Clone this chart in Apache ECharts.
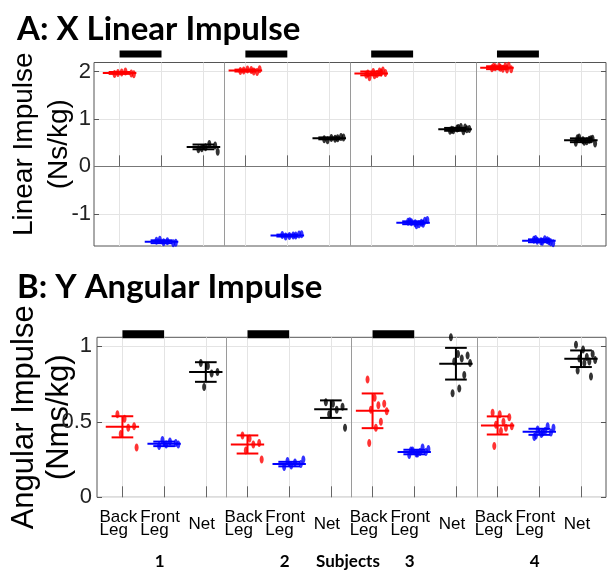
<!DOCTYPE html>
<html><head><meta charset="utf-8">
<script src="https://cdn.jsdelivr.net/npm/echarts@6/dist/echarts.min.js"></script>
<style>html,body{margin:0;padding:0;background:#fff}#c{width:608px;height:570px}</style>
</head><body><div id="c"></div>
<script>
// ---------- data ----------
const GROUPS = ['1', '2', '3', '4'];
const LEG_LABELS = ['Back\nLeg', 'Front\nLeg', 'Net'];
const X_TITLE = 'Subjects';
const TITLE_A = 'A: X Linear Impulse';
const TITLE_B = 'B: Y Angular Impulse';
const YNAME_A = 'Linear Impulse\n(Ns/kg)';
const YNAME_B = 'Angular Impulse\n(Nms/kg)';
const TICKS_A = [-1, 0, 1, 2];
const TICKS_B = [0, 0.5, 1];
const BARS_A = [0, 1, 2, 3];   // groups with black bar (panel A)
const BARS_B = [0, 1, 2];      // groups with black bar (panel B)
const JITTER = [-0.12, 0.05, 0.28, 0.14, -0.04, 0.34, 0.20, 0.08, -0.08, 0.24];

// Panel A: X linear impulse
const linBackPts = [
  [1.95, 1.98, 1.96, 2.00, 1.97, 1.94],
  [2.01, 2.04, 1.99, 2.03, 2.02, 2.05, 2.00],
  [1.93, 1.99, 2.02, 1.95, 1.88, 1.97, 2.00, 1.92, 1.96, 1.98],
  [2.07, 2.10, 2.12, 2.06, 2.09, 2.05, 2.11, 2.08, 2.10, 2.04]
];
const linBackMean = [1.97, 2.02, 1.96, 2.08];
const linBackSD = [0.02, 0.02, 0.04, 0.03];
const linFrontPts = [
  [-1.57, -1.60, -1.62, -1.58, -1.55, -1.61],
  [-1.45, -1.47, -1.44, -1.46, -1.48, -1.43, -1.46],
  [-1.17, -1.20, -1.15, -1.22, -1.18, -1.13, -1.19, -1.24, -1.16, -1.21],
  [-1.55, -1.58, -1.60, -1.54, -1.57, -1.62, -1.56, -1.59, -1.53, -1.58]
];
const linFrontMean = [-1.59, -1.46, -1.19, -1.57];
const linFrontSD = [0.03, 0.02, 0.03, 0.03];
const linNetPts = [
  [0.36, 0.40, 0.44, 0.47, 0.38, 0.31],
  [0.57, 0.60, 0.62, 0.58, 0.55, 0.61, 0.59],
  [0.75, 0.80, 0.78, 0.83, 0.76, 0.79, 0.74, 0.81, 0.77, 0.82],
  [0.50, 0.55, 0.58, 0.53, 0.61, 0.48, 0.56, 0.52, 0.59, 0.57]
];
const linNetMean = [0.41, 0.59, 0.78, 0.55];
const linNetSD = [0.05, 0.02, 0.03, 0.04];

// Panel B: Y angular impulse
const angBackPts = [
  [0.55, 0.52, 0.47, 0.46, 0.42, 0.33],
  [0.41, 0.39, 0.36, 0.35, 0.31, 0.25],
  [0.78, 0.66, 0.62, 0.61, 0.58, 0.57, 0.50, 0.46, 0.36],
  [0.56, 0.55, 0.53, 0.50, 0.48, 0.47, 0.46, 0.44, 0.34]
];
const angBackMean = [0.467, 0.35, 0.573, 0.476];
const angBackSD = [0.07, 0.06, 0.115, 0.06];
const angFrontPts = [
  [0.34, 0.35, 0.36, 0.37, 0.38, 0.35],
  [0.20, 0.21, 0.22, 0.23, 0.24, 0.25],
  [0.28, 0.29, 0.30, 0.30, 0.31, 0.32, 0.33, 0.29, 0.31],
  [0.40, 0.42, 0.43, 0.44, 0.45, 0.46, 0.47, 0.43, 0.41]
];
const angFrontMean = [0.354, 0.22, 0.30, 0.434];
const angFrontSD = [0.015, 0.015, 0.015, 0.02];
const angNetPts = [
  [0.89, 0.87, 0.83, 0.82, 0.73],
  [0.63, 0.62, 0.60, 0.58, 0.55, 0.46],
  [1.06, 0.95, 0.94, 0.92, 0.90, 0.89, 0.81, 0.72, 0.69],
  [1.01, 0.98, 0.95, 0.93, 0.92, 0.91, 0.90, 0.89, 0.84, 0.80]
];
const angNetMean = [0.83, 0.584, 0.885, 0.918];
const angNetSD = [0.065, 0.058, 0.105, 0.055];

// ---------- styling ----------
const COLORS = ['#ff0000', '#0000ff', '#000000'];
const NARROW = "'Liberation Sans Narrow', 'Arial Narrow', 'Liberation Sans', Arial, sans-serif";
const REG = "'Liberation Sans', Arial, sans-serif";
const BOLD = "Lato, 'Open Sans', sans-serif";
const X_MIN = 0.39, X_MAX = 12.6;
const MEAN_HALF = 0.40, STD_HALF = 0.26;
const PT_SIZE = [4, 8];

const catX = (g, l) => g * 3 + l + 1;
const CATS = [];
GROUPS.forEach((_, g) => LEG_LABELS.forEach((__, l) => CATS.push(catX(g, l))));
const SEPARATORS = GROUPS.slice(1).map((_, g) => catX(g, 2) + 0.5);

function pointsData(ptsByGroup, leg) {
  const out = [];
  ptsByGroup.forEach((pts, g) => pts.forEach((v, i) => out.push([catX(g, leg) + JITTER[i % JITTER.length], v])));
  return out;
}
function errData(sets) {
  const out = [];
  sets.forEach(([means, sds], leg) => means.forEach((m, g) => out.push([catX(g, leg), m, sds[g], leg])));
  return out;
}

function errRender(params, api) {
  const x = api.value(0), m = api.value(1), s = api.value(2), c = api.value(3);
  const col = COLORS[c];
  const a = api.coord([x - MEAN_HALF, m]), b = api.coord([x + MEAN_HALF, m]);
  const t = api.coord([x, m + s]), btm = api.coord([x, m - s]);
  const hw = api.size([STD_HALF, 0])[0];
  const st = { stroke: col, lineWidth: 2 };
  return { type: 'group', children: [
    { type: 'line', shape: { x1: a[0], y1: a[1], x2: b[0], y2: b[1] }, style: st },
    { type: 'line', shape: { x1: t[0] - hw, y1: t[1], x2: t[0] + hw, y2: t[1] }, style: st },
    { type: 'line', shape: { x1: btm[0] - hw, y1: btm[1], x2: btm[0] + hw, y2: btm[1] }, style: st },
    { type: 'line', shape: { x1: t[0], y1: t[1], x2: btm[0], y2: btm[1] }, style: st }
  ]};
}
function barRender(gap, h) {
  return function (params, api) {
    const g = api.value(0);
    const p1 = api.coord([catX(g, 0), 0]), p2 = api.coord([catX(g, 1), 0]);
    const top = params.coordSys.y;
    return { type: 'rect', shape: { x: p1[0], y: top - gap - h, width: p2[0] - p1[0], height: h },
      style: { fill: '#000' } };
  };
}

const ELLIPSE = 'path://M5,0 C7.8,0 10,4.5 10,10 C10,15.5 7.8,20 5,20 C2.2,20 0,15.5 0,10 C0,4.5 2.2,0 5,0 Z';

function makeXAxis(gi, showLabels) {
  return {
    type: 'value', gridIndex: gi, min: X_MIN, max: X_MAX, position: 'bottom',
    axisLine: { show: false },
    axisTick: { show: true, inside: true, length: 11, customValues: CATS, lineStyle: { color: '#666' } },
    splitLine: { show: true, lineStyle: { color: '#e4e4e4', width: 1 } },
    axisLabel: showLabels ? {
      show: true, customValues: CATS, margin: 14, padding: [0, 8, 0, 0],
      formatter: v => {
        const leg = (Math.round(v) - 1) % 3;
        if (leg === 2) return '{n|' + LEG_LABELS[2] + '}';
        return LEG_LABELS[leg].split('\n').map(s => '{a|' + s + '}').join('\n');
      },
      rich: {
        a: { align: 'left', fontFamily: NARROW, fontSize: 17, lineHeight: 13, color: '#000' },
        n: { fontFamily: NARROW, fontSize: 17, lineHeight: 26, color: '#000' }
      }
    } : { show: false }
  };
}
function makeYAxis(gi, min, max, ticks, name, nameSize, namePad, pos, margin, labelSize, nameGap) {
  const left = pos === 'left';
  return {
    type: 'value', gridIndex: gi, min: min, max: max, position: pos,
    axisLine: { show: false },
    axisTick: { show: true, inside: true, length: 5, customValues: ticks, lineStyle: { color: '#555' } },
    splitLine: { show: left, lineStyle: { color: '#e4e4e4' } },
    axisLabel: left ? { show: true, customValues: ticks, margin: margin, fontFamily: NARROW, fontSize: labelSize, color: '#222' } : { show: false },
    name: left ? name : '', nameLocation: 'middle', nameGap: nameGap || 20, nameRotate: 90, nameMoveOverlap: false,
    nameTextStyle: { fontFamily: REG, fontSize: nameSize, lineHeight: 35, color: '#000', padding: namePad }
  };
}

const option = {
  animation: false,
  backgroundColor: '#fff',
  title: [
    { text: TITLE_A, left: 12, top: 8, textStyle: { fontFamily: BOLD, fontWeight: 'bold', fontSize: 33, color: '#000' } },
    { text: TITLE_B, left: 12, top: 266, textStyle: { fontFamily: BOLD, fontWeight: 'bold', fontSize: 33, color: '#000' } }
  ],
  grid: [
    { left: 94, right: 2, top: 62.5, height: 183.5, outerBoundsMode: 'none', containLabel: false, show: true, borderColor: '#555', borderWidth: 1, backgroundColor: 'transparent' },
    { left: 97, right: 2, top: 337.3, height: 160, outerBoundsMode: 'none', containLabel: false, show: true, borderColor: '#555', borderWidth: 1, backgroundColor: 'transparent' }
  ],
  xAxis: [
    makeXAxis(0, false),
    makeXAxis(1, true),
    { type: 'value', gridIndex: 1, min: X_MIN, max: X_MAX, position: 'bottom',
      axisLine: { show: false }, axisTick: { show: false }, splitLine: { show: false },
      axisLabel: { show: true, customValues: GROUPS.map((_, g) => catX(g, 1)), margin: 56, padding: [0, 9, 0, 0],
        formatter: v => GROUPS[Math.round((v - 2) / 3)],
        fontFamily: BOLD, fontWeight: 'bold', fontSize: 17, color: '#000' },
      name: X_TITLE, nameLocation: 'middle', nameGap: 56, nameMoveOverlap: false,
      nameTextStyle: { fontFamily: BOLD, fontWeight: 'bold', fontSize: 17, color: '#000', padding: [0, 7, 0, 0] } }
  ],
  yAxis: [
    makeYAxis(0, -1.68, 2.19, TICKS_A, YNAME_A, 28, [0, 0, 0, 20], 'left', 3, 22, 17),
    makeYAxis(0, -1.68, 2.19, TICKS_A, '', 28, 0, 'right', 3, 22),
    makeYAxis(1, 0, 1.06, TICKS_B, YNAME_B, 31, [0, 0, 0, 0], 'left', 5, 22, 20),
    makeYAxis(1, 0, 1.06, TICKS_B, '', 31, 0, 'right', 5, 22)
  ],
  series: [
    // panel A decorations
    { type: 'custom', xAxisIndex: 0, yAxisIndex: 0, clip: false, z: 3, silent: true,
      renderItem: barRender(5, 7), data: BARS_A.map(g => [g]),
      markLine: { silent: true, symbol: 'none', label: { show: false }, animation: false,
        data: SEPARATORS.map(x => ({ xAxis: x, lineStyle: { color: '#9a9a9a', width: 1, type: 'solid' } }))
          .concat([{ yAxis: 0, lineStyle: { color: '#777', width: 1, type: 'solid' } }]) } },
    { type: 'custom', xAxisIndex: 0, yAxisIndex: 0, z: 4, silent: true, renderItem: errRender,
      encode: { x: 0, y: 1 },
      data: errData([[linBackMean, linBackSD], [linFrontMean, linFrontSD], [linNetMean, linNetSD]]) },
    { type: 'scatter', xAxisIndex: 0, yAxisIndex: 0, z: 5, symbol: ELLIPSE, symbolSize: PT_SIZE, itemStyle: { color: COLORS[0] }, data: pointsData(linBackPts, 0) },
    { type: 'scatter', xAxisIndex: 0, yAxisIndex: 0, z: 5, symbol: ELLIPSE, symbolSize: PT_SIZE, itemStyle: { color: COLORS[1] }, data: pointsData(linFrontPts, 1) },
    { type: 'scatter', xAxisIndex: 0, yAxisIndex: 0, z: 5, symbol: ELLIPSE, symbolSize: PT_SIZE, itemStyle: { color: COLORS[2] }, data: pointsData(linNetPts, 2) },
    // panel B
    { type: 'custom', xAxisIndex: 1, yAxisIndex: 2, clip: false, z: 3, silent: true,
      renderItem: barRender(-1, 8), data: BARS_B.map(g => [g]),
      markLine: { silent: true, symbol: 'none', label: { show: false }, animation: false,
        data: SEPARATORS.map(x => ({ xAxis: x, lineStyle: { color: '#9a9a9a', width: 1, type: 'solid' } })) } },
    { type: 'custom', xAxisIndex: 1, yAxisIndex: 2, z: 4, silent: true, renderItem: errRender,
      encode: { x: 0, y: 1 },
      data: errData([[angBackMean, angBackSD], [angFrontMean, angFrontSD], [angNetMean, angNetSD]]) },
    { type: 'scatter', xAxisIndex: 1, yAxisIndex: 2, z: 5, symbol: ELLIPSE, symbolSize: PT_SIZE, itemStyle: { color: COLORS[0] }, data: pointsData(angBackPts, 0) },
    { type: 'scatter', xAxisIndex: 1, yAxisIndex: 2, z: 5, symbol: ELLIPSE, symbolSize: PT_SIZE, itemStyle: { color: COLORS[1] }, data: pointsData(angFrontPts, 1) },
    { type: 'scatter', xAxisIndex: 1, yAxisIndex: 2, z: 5, symbol: ELLIPSE, symbolSize: PT_SIZE, itemStyle: { color: COLORS[2] }, data: pointsData(angNetPts, 2) }
  ]
};
const chart = echarts.init(document.getElementById('c'), null, { renderer: 'canvas' });
chart.setOption(option);
</script>
</body></html>
